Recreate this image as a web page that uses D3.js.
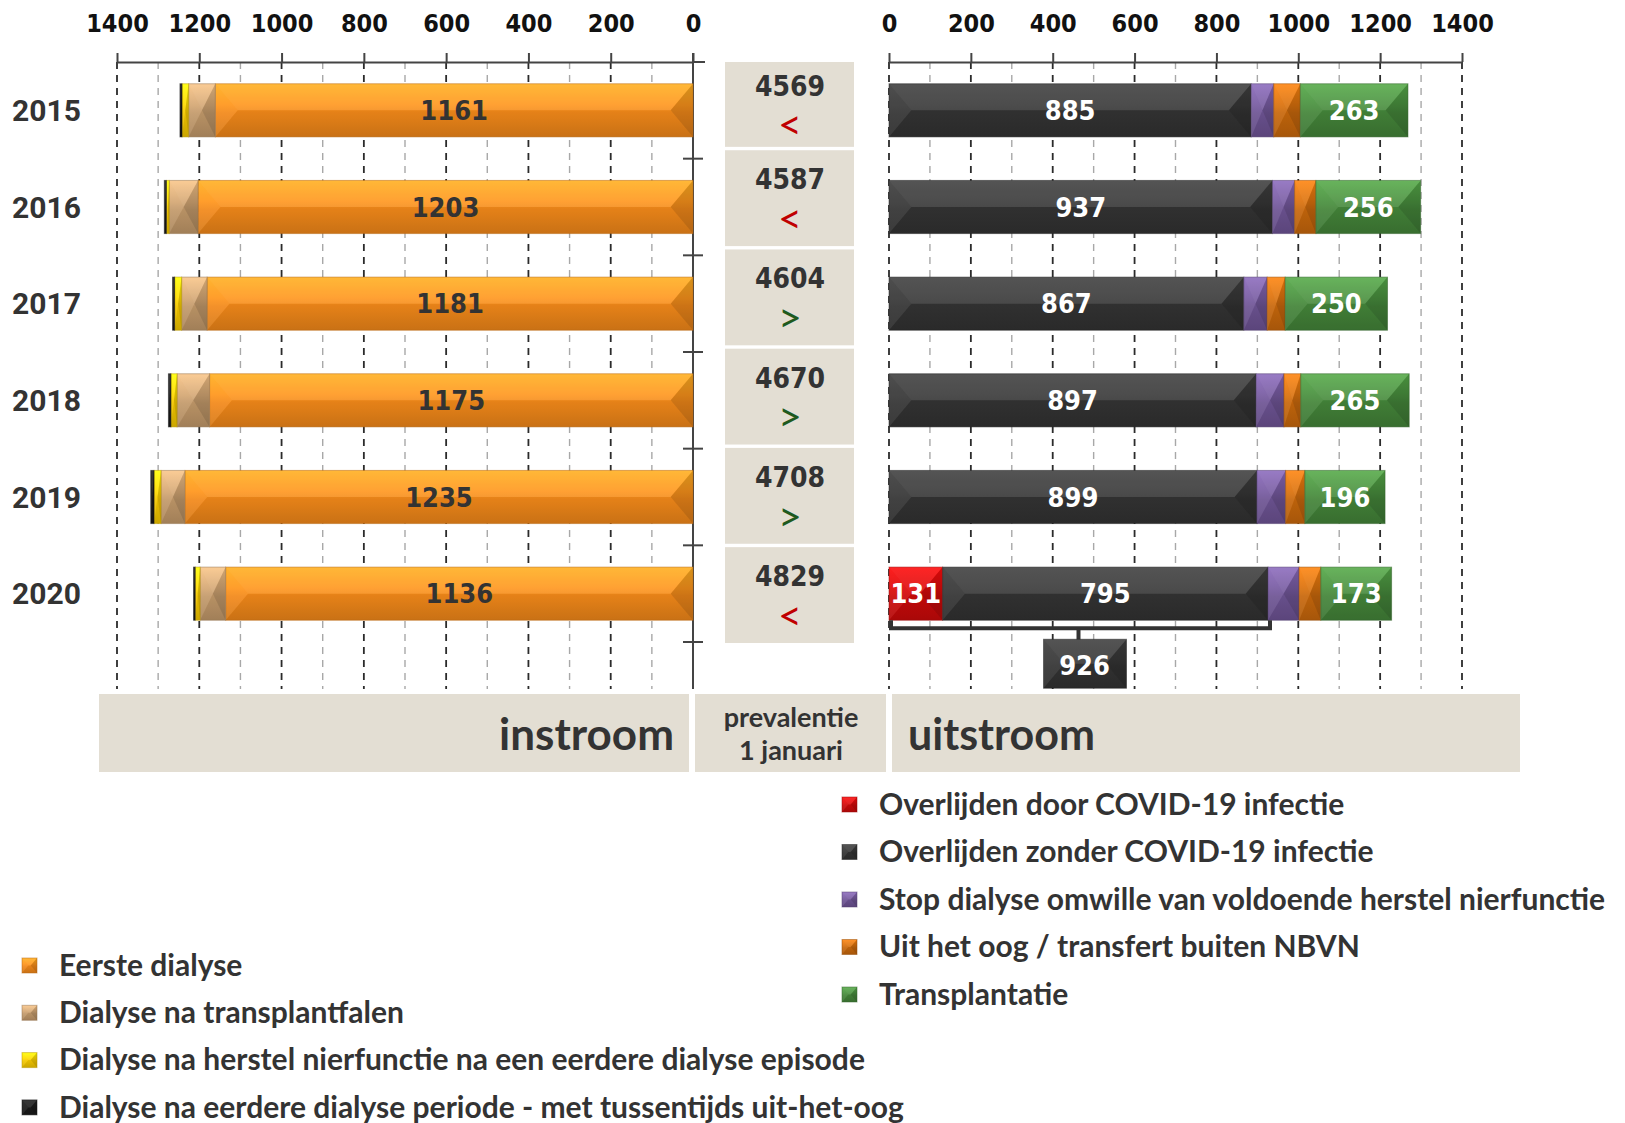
<!DOCTYPE html>
<html><head><meta charset="utf-8">
<script src="https://cdn.jsdelivr.net/npm/d3@7"></script>
<style>
html,body{margin:0;padding:0;background:#fff;}
svg{display:block;}
</style></head>
<body>
<svg id="c" width="1625" height="1123"></svg>
<script>
// ---------- DATA ----------
const years = ["2015","2016","2017","2018","2019","2020"];
// instroom (left)
const eersteDialyse   = [1161,1203,1181,1175,1235,1136];
const transplantfalen = [65,70,62,79,58,62];
const herstelNier     = [16,7,17,15,17,12];
const eerderePeriode  = [5,5,5,6,8,4];
// prevalentie 1 januari
const prevalentie = [4569,4587,4604,4670,4708,4829];
const trend       = ["<","<",">",">",">","<"];
// uitstroom (right)
const overlijdenCovid  = [0,0,0,0,0,131];
const overlijdenZonder = [885,937,867,897,899,795];
const stopHerstel      = [55,54,57,68,70,76];
const uitHetOog        = [65,52,44,41,47,53];
const transplantatie   = [263,256,250,265,196,173];
// axis ticks
const tickValues = [0,200,400,600,800,1000,1200,1400];
// legends
const legendLeft  = ["Eerste dialyse","Dialyse na transplantfalen","Dialyse na herstel nierfunctie na een eerdere dialyse episode","Dialyse na eerdere dialyse periode - met tussentijds uit-het-oog"];
const legendRight = ["Overlijden door COVID-19 infectie","Overlijden zonder COVID-19 infectie","Stop dialyse omwille van voldoende herstel nierfunctie","Uit het oog / transfert buiten NBVN","Transplantatie"];

// ---------- STYLE ----------
const colLeft  = ["#F3891A","#C39A6B","#F5C800","#1a1a1a"];
const colRight = ["#CC0A0A","#333333","#6E5494","#C8680C","#44853A"];
const numFont = "'DejaVu Sans Condensed','Liberation Sans Narrow','Roboto Condensed',sans-serif";
const txtFont = "'Lato','Open Sans',sans-serif";
const beige = "#E3DED3";

const svg = d3.select("#c");
const defs = svg.append("defs");

const xL = d3.scaleLinear().domain([0,1400]).range([693,117]);
const xR = d3.scaleLinear().domain([0,1400]).range([889,1462]);
const y  = d3.scaleBand().domain(years).range([62,642]).paddingInner(0.45).paddingOuter(0.225);
const yP = d3.scaleBand().domain(years).range([51,643]).paddingInner(0.034).paddingOuter(0);
const step = y.step();
const bandStart = i => 62 + i*step;

// gradients per color
function gradId(col){
  const id = "g" + col.replace("#","");
  if (defs.select("#"+id).empty()){
    const c = d3.color(col);
    const g = defs.append("linearGradient").attr("id",id).attr("x1",0).attr("y1",0).attr("x2",0).attr("y2",1);
    g.append("stop").attr("offset","0%").attr("stop-color", c.brighter(0.7));
    g.append("stop").attr("offset","40%").attr("stop-color", c.brighter(0.25));
    g.append("stop").attr("offset","55%").attr("stop-color", c);
    g.append("stop").attr("offset","100%").attr("stop-color", c.darker(0.35));
  }
  return "url(#"+id+")";
}
function bevel(g, x, yy, w, h, col){
  if (w <= 0) return;
  const gg = g.append("g");
  gg.append("rect").attr("x",x).attr("y",yy).attr("width",w).attr("height",h).attr("fill",gradId(col));
  const d = Math.min(h*0.42, w/2), m = yy + h/2;
  const poly = (pts, fill, op) => gg.append("polygon").attr("points", pts.map(p=>p.join(",")).join(" ")).attr("fill",fill).attr("opacity",op);
  poly([[x,yy],[x+w,yy],[x+w-d,m],[x+d,m]], "#fff", 0.10);
  poly([[x,yy+h],[x+w,yy+h],[x+w-d,m],[x+d,m]], "#000", 0.06);
  poly([[x,yy],[x+d,m],[x,yy+h]], "#fff", 0.07);
  poly([[x+w,yy],[x+w-d,m],[x+w,yy+h]], "#000", 0.16);
  gg.append("rect").attr("x",x).attr("y",yy).attr("width",w).attr("height",h)
    .attr("fill","none").attr("stroke", d3.color(col).darker(0.8)).attr("stroke-opacity",0.5).attr("stroke-width",1);
}

// ---------- GRIDLINES ----------
const grid = svg.append("g");
function drawGrid(x, skipZero){
  x.ticks(14).forEach(v => {
    if (skipZero && v===0) return;
    const major = v % 200 === 0;
    grid.append("line").attr("x1",x(v)).attr("x2",x(v)).attr("y1",62).attr("y2",689)
      .attr("stroke", major ? "#2b2b2b" : "#a8a8a8").attr("stroke-width", major?1.8:1.4)
      .attr("stroke-dasharray","7,6");
  });
}
drawGrid(xL, true);
drawGrid(xR, false);

// ---------- AXES ----------
function styleAxis(g){
  g.select(".domain").attr("stroke","#444").attr("stroke-width",2);
  g.selectAll(".tick line").attr("stroke","#444").attr("stroke-width",2);
  g.selectAll(".tick text").attr("font-family",numFont).attr("font-weight","bold").attr("font-size",25).attr("fill","#111");
}
const axL = svg.append("g").attr("transform","translate(0,62)")
  .call(d3.axisTop(xL).tickValues(tickValues).tickSize(9).tickSizeOuter(0).tickPadding(21).tickFormat(d3.format("d")));
styleAxis(axL);
axL.append("line").attr("x1",xL(0)).attr("x2",xL(0)+12).attr("y1",0).attr("y2",0).attr("stroke","#444").attr("stroke-width",2);
const axR = svg.append("g").attr("transform","translate(0,62)")
  .call(d3.axisTop(xR).tickValues(tickValues).tickSize(9).tickSizeOuter(0).tickPadding(21).tickFormat(d3.format("d")));
styleAxis(axR);

// left 0 axis (vertical) with category separators
svg.append("line").attr("x1",xL(0)).attr("x2",xL(0)).attr("y1",53).attr("y2",689).attr("stroke","#444").attr("stroke-width",2);
years.forEach((yr,i) => {
  svg.append("line").attr("x1",xL(0)-10).attr("x2",xL(0)+10).attr("y1",bandStart(i+1)).attr("y2",bandStart(i+1)).attr("stroke","#444").attr("stroke-width",2);
});

// ---------- YEAR LABELS ----------
svg.append("g").selectAll("text").data(years).join("text")
  .attr("x",12).attr("y",d=>y(d)+y.bandwidth()/2).attr("dy","0.36em")
  .attr("font-family","Roboto,sans-serif").attr("font-weight","bold").attr("font-size",30).attr("fill","#333")
  .text(d=>d);

// ---------- LEFT BARS ----------
const leftSeries = [eersteDialyse, transplantfalen, herstelNier, eerderePeriode];
const gl = svg.append("g");
years.forEach((yr,i) => {
  let acc = 0;
  const yy = y(yr), h = y.bandwidth();
  leftSeries.forEach((s,k) => {
    const v0 = acc, v1 = acc + s[i];
    bevel(gl, xL(v1), yy, xL(v0)-xL(v1), h, colLeft[k]);
    acc = v1;
  });
  gl.append("text").attr("x",(xL(0)+xL(eersteDialyse[i]))/2).attr("y",yy+h/2).attr("dy","0.36em")
    .attr("text-anchor","middle").attr("font-family",numFont).attr("font-weight","bold").attr("font-size",27).attr("fill","#333")
    .text(eersteDialyse[i]);
});

// ---------- RIGHT BARS ----------
const rightSeries = [overlijdenCovid, overlijdenZonder, stopHerstel, uitHetOog, transplantatie];
const labelled = [0,1,4];
const gr = svg.append("g");
years.forEach((yr,i) => {
  let acc = 0;
  const yy = y(yr), h = y.bandwidth();
  rightSeries.forEach((s,k) => {
    const v0 = acc, v1 = acc + s[i];
    if (s[i] > 0){
      bevel(gr, xR(v0), yy, xR(v1)-xR(v0), h, colRight[k]);
      if (labelled.includes(k)){
        gr.append("text").attr("x",(xR(v0)+xR(v1))/2).attr("y",yy+h/2).attr("dy","0.36em")
          .attr("text-anchor","middle").attr("font-family",numFont).attr("font-weight","bold").attr("font-size",27).attr("fill","#fff")
          .text(s[i]);
      }
    }
    acc = v1;
  });
});

// bracket for 2020 total deaths
(function(){
  const i = years.length-1, yr = years[i];
  const tot = overlijdenCovid[i] + overlijdenZonder[i];
  const yb = y(yr) + y.bandwidth();
  const x0 = xR(0)+2, x1 = xR(tot)+2, xm = xR(tot/2);
  svg.append("path").attr("d",`M${x0},${yb} V${yb+8} H${x1} V${yb}`).attr("fill","none").attr("stroke","#333").attr("stroke-width",4);
  svg.append("line").attr("x1",xm).attr("x2",xm).attr("y1",yb+8).attr("y2",yb+20).attr("stroke","#333").attr("stroke-width",4);
  bevel(svg, xm-35, yb+19, 83, 49, "#333333");
  svg.append("text").attr("x",xm+6).attr("y",yb+45).attr("dy","0.36em").attr("text-anchor","middle")
    .attr("font-family",numFont).attr("font-weight","bold").attr("font-size",27).attr("fill","#fff").text(tot);
})();

// ---------- PREVALENCE BOXES ----------
const gp = svg.append("g");
years.forEach((yr,i) => {
  const t = Math.max(62, yP(yr)), b = yP(yr)+yP.bandwidth(), cy = (t+b)/2;
  gp.append("rect").attr("x",725).attr("y",t).attr("width",129).attr("height",b-t).attr("fill",beige);
  gp.append("text").attr("x",790).attr("y",cy-19).attr("dy","0.36em").attr("text-anchor","middle")
    .attr("font-family",numFont).attr("font-weight","bold").attr("font-size",28).attr("fill","#333").text(prevalentie[i]);
  gp.append("text").attr("x",790).attr("y",cy+20).attr("dy","0.36em").attr("text-anchor","middle")
    .attr("font-family",txtFont).attr("font-size",33).attr("fill", trend[i]==="<" ? "#C00000" : "#1E5A1E")
    .attr("transform",`translate(790,${cy+20}) scale(1.25) translate(-790,${-(cy+20)})`)
    .text(trend[i]);
});

// ---------- BOTTOM HEADERS ----------
svg.append("rect").attr("x",99).attr("y",694).attr("width",590).attr("height",78).attr("fill",beige);
svg.append("rect").attr("x",695).attr("y",694).attr("width",191).attr("height",78).attr("fill",beige);
svg.append("rect").attr("x",892).attr("y",694).attr("width",628).attr("height",78).attr("fill",beige);
svg.append("text").attr("x",674).attr("y",750).attr("text-anchor","end").attr("font-family",txtFont).attr("font-weight","bold").attr("font-size",44).attr("fill","#333").text("instroom");
svg.append("text").attr("x",908).attr("y",750).attr("font-family",txtFont).attr("font-weight","bold").attr("font-size",43).attr("fill","#333").text("uitstroom");
svg.append("text").attr("x",791).attr("y",727).attr("text-anchor","middle").attr("font-family",txtFont).attr("font-weight","bold").attr("font-size",27).attr("fill","#333").text("prevalentie");
svg.append("text").attr("x",791).attr("y",760).attr("text-anchor","middle").attr("font-family",txtFont).attr("font-weight","bold").attr("font-size",27).attr("fill","#333").text("1 januari");

// ---------- LEGENDS ----------
function legend(items, cols, x0, y0, dy){
  const g = svg.append("g");
  items.forEach((t,i) => {
    const cy = y0 + i*dy;
    bevel(g, x0, cy-7, 15, 15, cols[i]);
    g.append("text").attr("x",x0+37).attr("y",cy).attr("dy","0.36em")
      .attr("font-family",txtFont).attr("font-weight","bold").attr("font-size",30).attr("fill","#333").text(t);
  });
}
legend(legendRight, colRight, 842, 804, 47.5);
legend(legendLeft, colLeft, 22, 965, 47.3);
</script>
</body></html>
